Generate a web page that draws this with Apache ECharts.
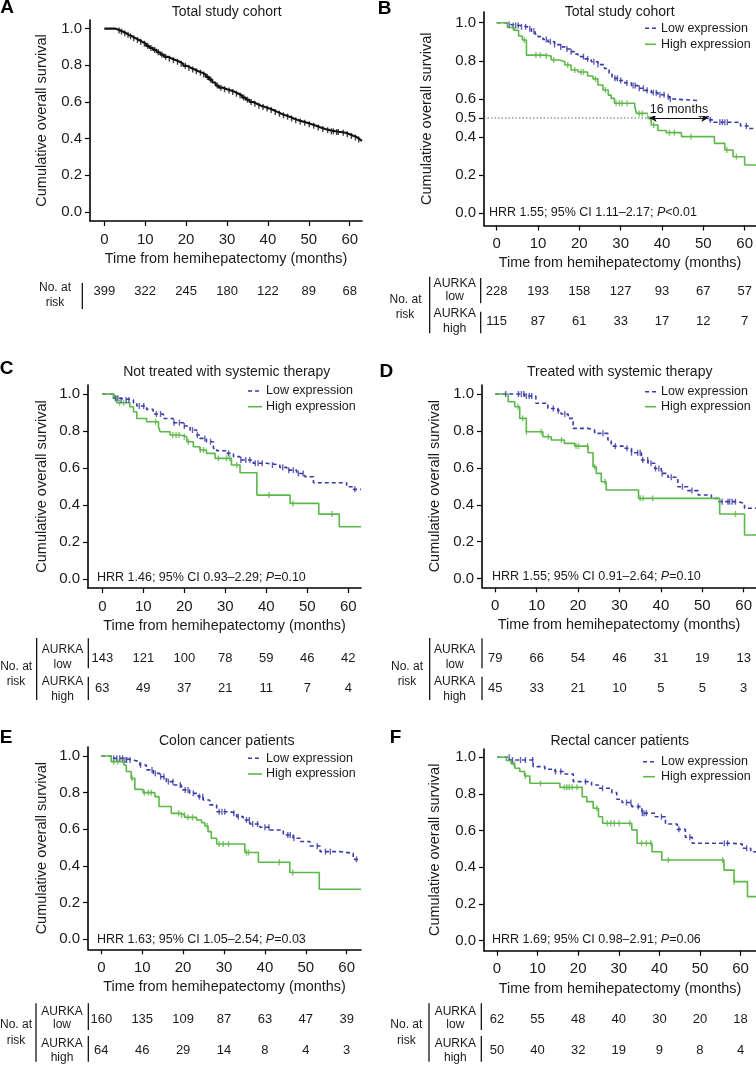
<!DOCTYPE html>
<html><head><meta charset="utf-8">
<script src="https://cdn.jsdelivr.net/npm/echarts@6/dist/echarts.min.js"></script>
<style>html,body{margin:0;padding:0;background:#fff}#c{width:756px;height:1065px}</style>
</head><body><div id="c"></div>
<script>
// ---------------- DATA ----------------
const timeTicks = [0, 10, 20, 30, 40, 50, 60];
const survTicks = [0, 0.2, 0.4, 0.6, 0.8, 1.0];
const survTicksB = [0, 0.2, 0.4, 0.5, 0.6, 0.8, 1.0];
const panelLetters = ['A', 'B', 'C', 'D', 'E', 'F'];
const panelTitles = ['Total study cohort', 'Total study cohort', 'Not treated with systemic therapy',
  'Treated with systemic therapy', 'Colon cancer patients', 'Rectal cancer patients'];
const seriesNames = ['Low expression', 'High expression'];
const xAxisTitle = 'Time from hemihepatectomy (months)';
const yAxisTitle = 'Cumulative overall survival';
// HRR; 95% CI; P
const hrrB = ['1.55', '1.11–2.17', '<0.01'];
const hrrC = ['1.46', '0.93–2.29', '=0.10'];
const hrrD = ['1.55', '0.91–2.64', '=0.10'];
const hrrE = ['1.63', '1.05–2.54', '=0.03'];
const hrrF = ['1.69', '0.98–2.91', '=0.06'];
// numbers at risk
const riskA = [399, 322, 245, 180, 122, 89, 68];
const riskLowB = [228, 193, 158, 127, 93, 67, 57];
const riskHighB = [115, 87, 61, 33, 17, 12, 7];
const riskLowC = [143, 121, 100, 78, 59, 46, 42];
const riskHighC = [63, 49, 37, 21, 11, 7, 4];
const riskLowD = [79, 66, 54, 46, 31, 19, 13];
const riskHighD = [45, 33, 21, 10, 5, 5, 3];
const riskLowE = [160, 135, 109, 87, 63, 47, 39];
const riskHighE = [64, 46, 29, 14, 8, 4, 3];
const riskLowF = [62, 55, 48, 40, 30, 20, 18];
const riskHighF = [50, 40, 32, 19, 9, 8, 4];
// Kaplan-Meier step curves [month, survival]
const curveA = [[0,1],[2.8,0.995],[3.3,0.99],[3.9,0.983],[4.6,0.975],[5.3,0.966],[6.0,0.958],[6.8,0.948],[7.6,0.938],[8.5,0.928],[9.3,0.918],[10.2,0.906],[11.0,0.895],[11.9,0.884],[12.8,0.871],[13.7,0.858],[14.6,0.846],[15.6,0.836],[16.6,0.828],[17.5,0.819],[18.4,0.809],[19.3,0.797],[20.2,0.787],[21.1,0.777],[22.1,0.768],[23.0,0.76],[23.9,0.75],[24.8,0.737],[25.6,0.722],[26.4,0.706],[27.2,0.69],[28.0,0.678],[29.0,0.67],[30.0,0.663],[31.0,0.655],[31.9,0.645],[32.8,0.635],[33.7,0.624],[34.6,0.612],[35.5,0.6],[36.4,0.59],[37.3,0.58],[38.3,0.572],[39.3,0.565],[40.3,0.556],[41.3,0.546],[42.3,0.536],[43.3,0.527],[44.3,0.52],[45.3,0.51],[46.3,0.501],[47.4,0.494],[48.5,0.487],[49.6,0.479],[50.7,0.47],[51.8,0.461],[52.9,0.453],[54.0,0.446],[55.2,0.44],[56.5,0.436],[57.8,0.432],[59.0,0.424],[60.0,0.415],[61.0,0.406],[61.9,0.396],[62.5,0.387],[63.0,0.384]];
const censorA = [3.6,4.2,5.0,5.8,6.4,7.2,8.1,8.9,9.8,10.6,11.4,12.3,13.2,14.1,15.0,15.9,16.9,17.9,18.8,19.8,20.7,21.6,22.5,23.5,24.3,25.2,26.0,27.6,28.5,29.4,30.5,31.4,32.3,33.2,34.1,35.0,35.9,36.8,37.8,38.8,39.8,40.8,41.8,42.8,43.8,44.8,45.8,46.8,47.9,49.0,50.1,51.2,52.3,53.4,54.6,55.5,56.0,56.8,57.2,58.4,59.4,60.4,61.4,62.2];

const lowB = [[0,1],[2.3,0.99],[3.5,0.985],[5.5,0.978],[7.5,0.968],[8.4,0.955],[9.3,0.94],[10,0.927],[11.2,0.912],[12.4,0.9],[14,0.885],[15.5,0.873],[16.5,0.862],[17.8,0.848],[18.8,0.835],[19.7,0.822],[21.2,0.81],[22.9,0.795],[24.5,0.78],[26.1,0.76],[27.2,0.735],[27.9,0.708],[29.5,0.697],[31,0.684],[32.6,0.67],[34.2,0.656],[35.8,0.645],[37.4,0.633],[39,0.622],[40.6,0.612],[41.8,0.6],[42.7,0.591],[48.8,0.51],[51.2,0.49],[52.5,0.478],[59,0.458],[61,0.445],[62.74,0.445]];
const highB = [[0,1],[2.6,0.975],[4.2,0.96],[5.3,0.93],[6.2,0.909],[7.2,0.83],[11.5,0.825],[13.2,0.804],[15.2,0.795],[16.5,0.778],[18,0.752],[19.7,0.741],[22,0.72],[23.3,0.705],[24.5,0.673],[25.7,0.647],[27,0.62],[27.7,0.603],[28.5,0.577],[33.4,0.563],[33.8,0.524],[36.6,0.498],[37.4,0.463],[39,0.434],[41,0.423],[44.7,0.402],[52.7,0.367],[55.2,0.332],[57.2,0.297],[60,0.253],[62.74,0.253]];
const censorLowB = [3,4,4.6,5.2,6,7,8,9,12,13,14,15.5,17,18,21,22,23.5,24.5,28.6,29.2,30,31.5,33,33.5,34.5,35.5,36.4,37.9,38.6,39.5,40.5,41.5,42,49.3,51.7,54,54.6,55.2,55.8,60.4];
const censorHighB = [4,6.7,9.5,10.5,12,13.8,17.2,18.9,20.4,21,23.9,26.3,28.9,29.7,30.3,31.5,34.5,35.2,37.2,38,41.8,43,47,55.7,58];
const medianB = [37.0, 51.2];
const medianLabelB = '16 months';

const lowC = [[0,1],[2.7,0.977],[4.3,0.968],[7.6,0.953],[8.4,0.935],[10.8,0.917],[12.4,0.892],[14.9,0.868],[17.3,0.845],[19.8,0.827],[21.4,0.805],[23,0.778],[23.8,0.76],[25.4,0.742],[27.1,0.706],[27.9,0.693],[30.3,0.679],[32,0.661],[33.6,0.643],[36.8,0.625],[40.1,0.616],[43.3,0.603],[45,0.588],[47.4,0.57],[49.4,0.552],[51.5,0.52],[59.6,0.498],[61.2,0.484],[63.1,0.484]];
const highC = [[0,1],[2.7,0.986],[3.5,0.953],[6.7,0.931],[7.6,0.904],[8.4,0.868],[10.8,0.85],[13.7,0.823],[14.1,0.796],[16.5,0.778],[19,0.769],[20.6,0.742],[22.2,0.715],[23.8,0.697],[25.4,0.679],[27.5,0.652],[31.5,0.616],[33.6,0.574],[37.7,0.453],[45.8,0.408],[52.8,0.35],[57.8,0.282],[63.1,0.282]];
const censorLowC = [3.2,3.8,4.6,5.8,6.5,9,10.1,13.2,14.2,17.5,18.8,20,22,23.2,25,26.4,30.8,33.8,35,36,37.3,38,39,41.5,44,45.5,46.6,47.8,49,61.6];
const censorHighC = [3,4.2,5.2,13,17.2,18,18.7,20,21,23.9,24.7,28.3,30.3,31.1,32.8,40.7,46.5,56];

const lowD = [[0,1],[7.1,0.989],[9.8,0.95],[12.7,0.922],[15.1,0.91],[15.9,0.892],[17.6,0.868],[18.8,0.814],[22.4,0.805],[24,0.787],[27.2,0.751],[28,0.718],[31.2,0.706],[32.9,0.682],[35.3,0.643],[36.9,0.625],[38.5,0.597],[40.1,0.57],[41.7,0.549],[44.1,0.498],[46.5,0.477],[49,0.453],[52.2,0.435],[53.8,0.417],[58.6,0.408],[60.2,0.381],[63,0.381]];
const highD = [[0,1],[3.1,0.958],[4.7,0.931],[5.9,0.868],[7.5,0.796],[11.5,0.769],[13.5,0.751],[16.7,0.733],[19.2,0.718],[22.4,0.682],[23.6,0.606],[24.4,0.57],[25.6,0.525],[26.8,0.48],[34.6,0.435],[54.2,0.35],[60.2,0.236],[63,0.236]];
const censorLowD = [2.5,5.6,6.3,6.9,7.5,8.2,8.8,14,15.2,16.8,26,29,31.8,32.9,34.4,35,35.6,36.8,37.6,38.7,39.5,40.3,42.5,45.2,47.5,54.8,56.2,56.6,57.2,58];
const censorHighD = [5.5,6.6,7.5,11.1,12.8,16,19.5,20.1,22.3,24,26.5,35,35.7,38,58];

const lowE = [[0,1],[2.4,0.987],[5.3,0.978],[7.8,0.969],[9.4,0.951],[11,0.924],[12.7,0.905],[14.3,0.887],[15.9,0.86],[17.6,0.842],[19.6,0.815],[21.6,0.796],[23.7,0.778],[24.9,0.76],[26.5,0.733],[28.2,0.696],[31.4,0.687],[33.1,0.669],[34.7,0.651],[36.3,0.629],[38.8,0.611],[41.2,0.596],[44.5,0.569],[46.9,0.551],[48.6,0.533],[51,0.509],[53.5,0.478],[58.4,0.469],[61.6,0.436],[63.5,0.436]];
const highE = [[0,1],[2.4,0.969],[5.5,0.951],[6.1,0.915],[7.3,0.878],[8.2,0.818],[10.2,0.8],[13.1,0.778],[14.1,0.724],[17.1,0.687],[19.2,0.678],[20.4,0.665],[23.3,0.651],[24.5,0.636],[25.3,0.618],[26.1,0.587],[26.9,0.551],[28.2,0.52],[35.1,0.473],[38.4,0.42],[46.1,0.364],[53.3,0.273],[63.5,0.273]];
const censorLowE = [3,3.8,4.5,5.2,5.8,6.2,7,9.6,12.4,13.2,14.5,15.3,16.4,17.5,19.3,20.5,21.2,22.5,24,24.8,28.8,29.5,30.2,32.4,33.5,35.5,36.2,37,38.2,40,41,45.6,46.2,47.1,52.8,54.8,56,62.4];
const censorHighE = [3,4,5.4,7.5,10.5,11.5,12.2,18.9,19.6,20.3,21.2,22.3,25.9,28.8,29.8,31.1,35.5,36,43.5,46.8];

const lowF = [[0,1],[3.1,0.985],[8.9,0.949],[11.8,0.935],[14.3,0.922],[16.7,0.909],[18.8,0.867],[23.3,0.849],[25,0.831],[28.3,0.807],[29.5,0.771],[30.8,0.753],[33.2,0.731],[35.7,0.695],[39,0.676],[41.5,0.636],[44.4,0.607],[46.4,0.564],[48.1,0.531],[58,0.527],[60.4,0.504],[62.5,0.485],[63.8,0.485]];
const highF = [[0,1],[2.3,0.982],[3.5,0.964],[4.4,0.94],[5.6,0.922],[6.8,0.898],[8.1,0.858],[15.5,0.836],[21,0.785],[22.1,0.758],[23.7,0.722],[25,0.676],[26,0.64],[33.2,0.604],[34.5,0.531],[38.2,0.485],[40.6,0.44],[55.9,0.385],[58.4,0.322],[61.7,0.24],[63.8,0.24]];
const censorLowF = [3,3.8,5.8,7,8.8,14.4,15.7,21.8,26,31.9,33,34.8,35.8,36.2,36.8,40.5,44.8,47.5,56,56.8,61.5];
const censorHighF = [4.2,7,10.7,16.6,17.2,17.8,18.5,19.7,24.6,27.2,28,28.9,30.1,32.7,35.6,36.8,37.9,42.2,55.6,58.4];

// ---------------- STYLE / LAYOUT ----------------
const FONT = '"Liberation Sans", Arial, Helvetica, sans-serif';
const INK = '#1a1a1a';
const BLUE = '#3b3ba8';
const GREEN = '#5cb848';

const panels = [
  {grid:{left:90,top:20,width:272,height:201}, x:[-3.5,63], y:[-0.049,1.047], yGap:41, yTicks:survTicks,
   title:[226.7,12], letter:[7,7.5], curves:[{d:curveA,c:censorA,color:'#111',dash:'solid',w:2.1}],
   table:{single:true, noAt:[55,287.3], risk:[55,302.7], bar:[82.3,283,309], numY:291.7, rows:[riskA]}},
  {grid:{left:484,top:12,width:272,height:213.5}, x:[-3.07,62.74], y:[-0.064,1.056], yGap:50, yTicks:survTicksB,
   title:[619.7,12.5], letter:[384.7,8.3], hrr:hrrB, hrrPos:[489,213],
   legend:{l:[645,656], t:661, y:[28.3,44.3]},
   curves:[{d:lowB,c:censorLowB,color:BLUE,dash:[4,3],w:1.6},{d:highB,c:censorHighB,color:GREEN,dash:'solid',w:1.6}],
   table:{noAt:[405.5,299.3], risk:[405,315], bar1:[429.7,276.7,333.3], aur:454.7, aurY:[283.3,296.7,313.3,328.3], bar2:[480.7,278,303.3,311.7,333.3], numY:[291.7,321.7], rows:[riskLowB,riskHighB], aurFont:12.3}},
  {grid:{left:88,top:385,width:273,height:203}, x:[-3.49,63.1], y:[-0.05,1.049], yGap:39, yTicks:survTicks,
   title:[226.7,371.7], letter:[6.7,368.3], hrr:hrrC, hrrPos:[97,577.3],
   legend:{l:[248,262], t:266, y:[391,406.7]},
   curves:[{d:lowC,c:censorLowC,color:BLUE,dash:[4,3],w:1.6},{d:highC,c:censorHighC,color:GREEN,dash:'solid',w:1.6}],
   table:{noAt:[16.2,666.7], risk:[16,681.7], bar1:[36.7,638,700], aur:62.5, aurY:[650,665,681.7,696.7], bar2:[88.3,638.3,668.3,676.7,700], numY:[658.3,688.3], rows:[riskLowC,riskHighC], aurFont:12}},
  {grid:{left:482,top:385,width:274,height:202.3}, x:[-3.21,62.97], y:[-0.047,1.049], yGap:40, yTicks:survTicks,
   title:[619.7,371.7], letter:[386.3,371.7], hrr:hrrD, hrrPos:[492,577],
   legend:{l:[645,656], t:661, y:[391.7,406.7]},
   curves:[{d:lowD,c:censorLowD,color:BLUE,dash:[4,3],w:1.6},{d:highD,c:censorHighD,color:GREEN,dash:'solid',w:1.6}],
   table:{noAt:[407,666.7], risk:[407,681.7], bar1:[429.7,638,700], aur:454.7, aurY:[650,665,681.7,696.7], bar2:[482,638.3,668.3,676.7,700], numY:[658.3,688.3], rows:[riskLowD,riskHighD], aurFont:12}},
  {grid:{left:88,top:747,width:273,height:202.3}, x:[-3.26,63.5], y:[-0.055,1.049], yGap:39, yTicks:survTicks,
   title:[226.7,740.7], letter:[6,737.5], hrr:hrrE, hrrPos:[97,939.3],
   legend:{l:[248,262], t:266, y:[758.3,774]},
   curves:[{d:lowE,c:censorLowE,color:BLUE,dash:[4,3],w:1.6},{d:highE,c:censorHighE,color:GREEN,dash:'solid',w:1.6}],
   table:{noAt:[16,1025], risk:[16,1040.7], bar1:[36,1003.3,1061.7], aur:62, aurY:[1011.7,1025,1043.3,1057.3], bar2:[88.3,1003.3,1030,1036,1061.7], numY:[1019.3,1050], rows:[riskLowE,riskHighE], aurFont:12}},
  {grid:{left:484,top:749,width:272,height:201.7}, x:[-3.2,63.8], y:[-0.0545,1.045], yGap:42, yTicks:survTicks,
   title:[619.7,740.7], letter:[395.5,737.5], hrr:hrrF, hrrPos:[492,940],
   legend:{l:[643,655], t:661, y:[761.7,776.7]},
   curves:[{d:lowF,c:censorLowF,color:BLUE,dash:[4,3],w:1.6},{d:highF,c:censorHighF,color:GREEN,dash:'solid',w:1.6}],
   table:{noAt:[406.3,1025], risk:[406.3,1040.7], bar1:[429,1003.3,1061.7], aur:455.3, aurY:[1011.7,1025,1043.3,1057.3], bar2:[481.3,1003.3,1030,1036,1061.7], numY:[1019.3,1050], rows:[riskLowF,riskHighF], aurFont:12}}
];

function survAt(curve, t) {
  let s = curve[0][1];
  for (const [ti, si] of curve) { if (ti <= t) s = si; else break; }
  return s;
}

const chart = echarts.init(document.getElementById('c'), null, {renderer:'canvas', width:756, height:1065});

const grids = [], xAxes = [], yAxes = [], series = [];
panels.forEach((p, i) => {
  grids.push(Object.assign({}, p.grid));
  xAxes.push({
    gridIndex:i, type:'value', min:p.x[0], max:p.x[1],
    name:xAxisTitle, nameLocation:'middle', nameGap:31,
    nameTextStyle:{fontFamily:FONT, fontSize:14.4, color:INK},
    axisLine:{show:true, onZero:false, lineStyle:{color:'#000', width:1.6}},
    axisTick:{show:true, customValues:timeTicks, length:5, lineStyle:{color:'#000', width:1.2}},
    axisLabel:{show:true, customValues:timeTicks, margin:11, fontFamily:FONT, fontSize:15, color:INK},
    splitLine:{show:false}
  });
  yAxes.push({
    gridIndex:i, type:'value', min:p.y[0], max:p.y[1],
    name:yAxisTitle, nameLocation:'middle', nameGap:p.yGap, nameRotate:90,
    nameTextStyle:{fontFamily:FONT, fontSize:14.5, color:INK},
    axisLine:{show:true, onZero:false, lineStyle:{color:'#000', width:1.6}},
    axisTick:{show:true, customValues:p.yTicks, length:5, lineStyle:{color:'#000', width:1.2}},
    axisLabel:{show:true, customValues:p.yTicks, margin:8, fontFamily:FONT, fontSize:15, color:INK,
      formatter:v => v.toFixed(1)},
    splitLine:{show:false}
  });
  if (i === 1) {
    series.push({
      type:'line', xAxisIndex:i, yAxisIndex:i, symbol:'none', silent:true, z:1,
      data:[[p.x[0], 0.5], [medianB[0], 0.5]],
      lineStyle:{color:'#666', width:1, type:[1.5,2]},
      markLine:{
        silent:true, symbol:['arrow','arrow'], symbolSize:[6,7], z:5,
        lineStyle:{color:'#111', width:1.2, type:'solid'},
        label:{show:true, position:'insideMiddleTop', formatter:medianLabelB, fontFamily:FONT, fontSize:12.5,
          color:INK, backgroundColor:'#fff', padding:[1,2,0,2], distance:2},
        data:[[{coord:[medianB[0],0.5]},{coord:[medianB[1],0.5]}]]
      }
    });
  }
  p.curves.forEach((c, k) => {
    series.push({
      name:(p.curves.length > 1 ? seriesNames[k] : 'All'), type:'line', xAxisIndex:i, yAxisIndex:i,
      step:'end', symbol:'none', silent:true, data:c.d, z:2,
      lineStyle:{color:c.color, width:c.w, type:c.dash}
    });
    series.push({
      type:'scatter', xAxisIndex:i, yAxisIndex:i, silent:true, z:3,
      symbol:'rect', symbolSize:[1.4, 6],
      itemStyle:{color:c.color},
      data:c.c.map(t => [t, survAt(c.d, t)])
    });
  });
});

chart.setOption({
  animation:false, backgroundColor:'#fff',
  textStyle:{fontFamily:FONT},
  grid:grids, xAxis:xAxes, yAxis:yAxes, series:series
});

// ---------------- annotations ----------------
const g = [];
function txt(x, y, text, size, opt) {
  g.push({type:'text', x:x, y:y, silent:true, z:10,
    style:Object.assign({text:text, fill:INK, font:size + 'px ' + FONT, align:'center', verticalAlign:'middle'}, opt || {})});
}
function ln(x1, y1, x2, y2, w, color, dash) {
  g.push({type:'line', silent:true, z:10, shape:{x1:x1, y1:y1, x2:x2, y2:y2},
    style:{stroke:color || '#000', lineWidth:w || 1.2, lineDash:dash || null}});
}

panels.forEach((p, i) => {
  g.push({type:'text', x:p.letter[0], y:p.letter[1], silent:true, z:10,
    style:{text:panelLetters[i], fill:'#000', font:'bold 19px ' + FONT, align:'center', verticalAlign:'middle'}});
  txt(p.title[0], p.title[1], panelTitles[i], 14);
  if (p.legend) {
    const L = p.legend;
    ln(L.l[0], L.y[0], L.l[1], L.y[0], 1.6, BLUE, [4,3]);
    ln(L.l[0], L.y[1], L.l[1], L.y[1], 1.6, GREEN);
    txt(L.t, L.y[0], seriesNames[0], 12.5, {align:'left'});
    txt(L.t, L.y[1], seriesNames[1], 12.5, {align:'left'});
  }
  if (p.hrr) {
    g.push({type:'text', x:p.hrrPos[0], y:p.hrrPos[1], silent:true, z:10,
      style:{text:'{n|HRR ' + p.hrr[0] + '; 95% CI ' + p.hrr[1] + '; }{i|P}{n|' + p.hrr[2] + '}',
        align:'left', verticalAlign:'middle',
        rich:{n:{fontFamily:FONT, fontSize:12.5, fill:INK}, i:{fontFamily:FONT, fontSize:12.5, fontStyle:'italic', fill:INK}}}});
  }
  const T = p.table;
  const xs = timeTicks.map(t => chart.convertToPixel({xAxisIndex:i}, t));
  txt(T.noAt[0], T.noAt[1], 'No. at', 12);
  txt(T.risk[0], T.risk[1], 'risk', 12);
  if (T.single) {
    ln(T.bar[0], T.bar[1], T.bar[0], T.bar[2], 1.2);
    T.rows[0].forEach((v, k) => txt(xs[k], T.numY, String(v), 13));
  } else {
    ln(T.bar1[0], T.bar1[1], T.bar1[0], T.bar1[2], 1.2);
    txt(T.aur, T.aurY[0], 'AURKA', T.aurFont);
    txt(T.aur, T.aurY[1], 'low', T.aurFont);
    txt(T.aur, T.aurY[2], 'AURKA', T.aurFont);
    txt(T.aur, T.aurY[3], 'high', T.aurFont);
    ln(T.bar2[0], T.bar2[1], T.bar2[0], T.bar2[2], 1.2);
    ln(T.bar2[0], T.bar2[3], T.bar2[0], T.bar2[4], 1.2);
    T.rows[0].forEach((v, k) => txt(xs[k], T.numY[0], String(v), 13));
    T.rows[1].forEach((v, k) => txt(xs[k], T.numY[1], String(v), 13));
  }
});
chart.setOption({graphic:{elements:g}});
</script></body></html>
